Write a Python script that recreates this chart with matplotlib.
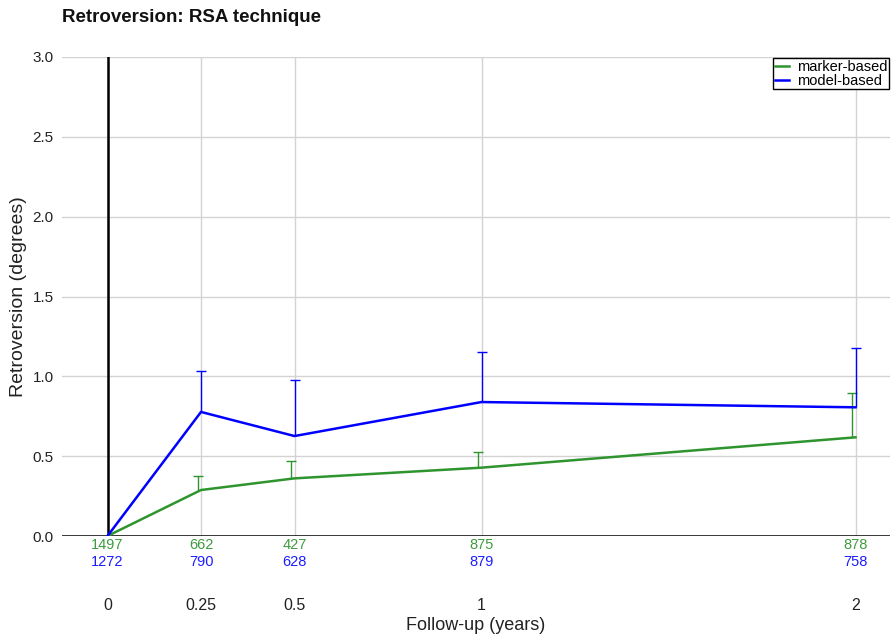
import matplotlib
matplotlib.use("Agg")
import matplotlib.pyplot as plt
from matplotlib.transforms import blended_transform_factory

plt.rcParams['font.family'] = ['Liberation Sans', 'DejaVu Sans']

# Follow-up time points (years)
followup = [0, 0.25, 0.5, 1, 2]
tick_labels = ["0", "0.25", "0.5", "1", "2"]

# Mean retroversion (degrees) and upper error (degrees)
marker_mean = [0.0, 0.288, 0.361, 0.428, 0.618]
marker_err = [0.0, 0.090, 0.107, 0.096, 0.276]
model_mean = [0.0, 0.777, 0.626, 0.839, 0.806]
model_err = [0.0, 0.256, 0.351, 0.311, 0.371]

# Number of patients at each time point
marker_n = [1497, 662, 427, 875, 878]
model_n = [1272, 790, 628, 879, 758]

green = "#2e952e"
blue = "#0000ff"
green_txt = "#3f9b3f"
blue_txt = "#1c1cff"

W, H = 892, 639
fig = plt.figure(figsize=(W / 100, H / 100), dpi=100)
ax_l, ax_r, ax_t, ax_b = 62, 890, 57, 536
ax = fig.add_axes([ax_l / W, 1 - ax_b / H, (ax_r - ax_l) / W, (ax_b - ax_t) / H])

px_per_year = 374.0
x0 = -(107.5 - ax_l) / px_per_year
x1 = (ax_r - 107.5) / px_per_year
ax.set_xlim(x0, x1)
ax.set_ylim(0, 3.0)

# Grid
ax.set_yticks([0, 0.5, 1.0, 1.5, 2.0, 2.5, 3.0])
ax.set_yticklabels(["0.0", "0.5", "1.0", "1.5", "2.0", "2.5", "3.0"])
ax.set_xticks(followup)
ax.set_xticklabels(tick_labels)
ax.grid(True, color="#d3d3d3", linewidth=1.0)
ax.set_axisbelow(True)
for s in ax.spines.values():
    s.set_visible(False)
ax.tick_params(axis="both", length=0, labelsize=11, colors="#222222")
ax.tick_params(axis="x", pad=45, labelsize=11.5)
ax.tick_params(axis="y", pad=6)

# Reference lines
ax.axhline(0, color="black", linewidth=1.8, zorder=3)
ax.axvline(0, color="black", linewidth=1.8, zorder=3)


def upper_errorbars(x, y, err, color, z):
    _, caps, _ = ax.errorbar(x, y, yerr=[[0] * len(err), err], fmt="none",
                             ecolor=color, elinewidth=1.0, capsize=3.6,
                             capthick=1.0, zorder=z)
    caps[0].set_visible(False)


# Series
dodge = 0.009
ax.plot(followup, marker_mean, color=green, linewidth=1.8, zorder=4, label="marker-based")
upper_errorbars([x - dodge for x in followup[1:]], marker_mean[1:], marker_err[1:], green, 4)
ax.plot(followup, model_mean, color=blue, linewidth=1.8, zorder=5, label="model-based")
upper_errorbars(followup[1:], model_mean[1:], model_err[1:], blue, 5)

# Patient counts below the axis
trans = blended_transform_factory(ax.transData, ax.transAxes)
for x, n1, n2 in zip(followup, marker_n, model_n):
    ax.text(x, -9 / (ax_b - ax_t), str(n1), transform=trans, ha="center", va="center",
            fontsize=10.5, color=green_txt)
    ax.text(x, -26 / (ax_b - ax_t), str(n2), transform=trans, ha="center", va="center",
            fontsize=10.5, color=blue_txt)

ax.set_xlabel("Follow-up (years)", fontsize=13, labelpad=2.5, color="#222222")
ax.set_ylabel("Retroversion (degrees)", fontsize=14, labelpad=4, color="#222222")

leg = ax.legend(loc="upper right", fontsize=10.5, frameon=True, fancybox=False,
                edgecolor="black", framealpha=1, handlelength=1.0, handletextpad=0.5,
                borderpad=0.1, labelspacing=0.0, borderaxespad=0.1)
leg.get_frame().set_linewidth(1.0)

fig.text(62 / W, 1 - 18 / H, "Retroversion: RSA technique", fontsize=13.5,
         fontweight="bold", ha="left", va="center", color="#111111")

fig.savefig("out.png", dpi=100)
